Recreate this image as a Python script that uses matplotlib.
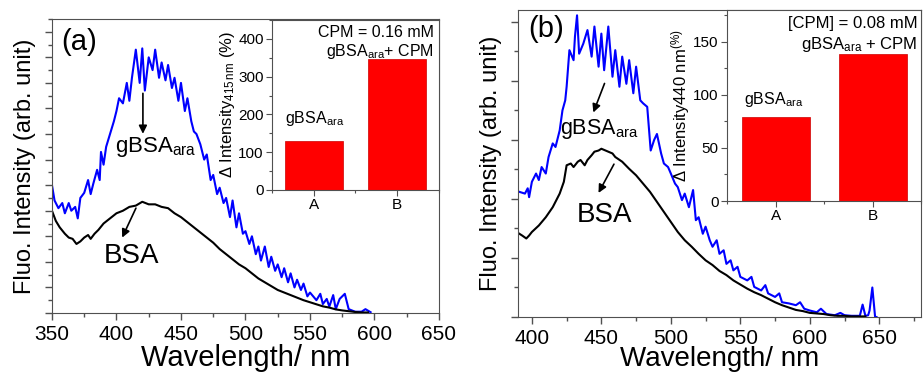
import matplotlib.pyplot as plt
from matplotlib.ticker import MultipleLocator, NullFormatter

plt.rcParams['font.family'] = ['Liberation Sans', 'DejaVu Sans']
plt.rcParams['mathtext.fontset'] = 'custom'
plt.rcParams['mathtext.rm'] = 'Liberation Sans'
plt.rcParams['mathtext.it'] = 'Liberation Sans'

# panel (a) spectra (arb. units, one unit = one major y tick)
wl_a_blue = [350, 352, 355, 358, 360, 363, 365, 368, 370, 372, 375, 378, 380, 382, 385, 387,
             388, 390, 392, 395, 398, 400, 402, 405, 408, 410, 412, 415, 418, 420, 422, 425,
             428, 430, 433, 435, 438, 440, 443, 445, 448, 450, 453, 455, 458, 460, 462, 465,
             468, 470, 473, 475, 478, 480, 483, 485, 488, 490, 493, 495, 498, 500, 503, 505,
             508, 510, 512, 515, 518, 520, 523, 525, 528, 530, 533, 535, 538, 540, 543, 545,
             548, 550, 555, 558, 560, 563, 565, 568, 570, 573, 577, 580, 585, 590, 593, 597]
int_a_blue = [5.0, 4.4, 4.1, 4.3, 3.9, 4.3, 4.0, 4.15, 3.7, 4.5, 4.7, 5.2, 4.65, 5.05, 5.6, 5.2,
              6.3, 5.8, 6.5, 7.0, 7.5, 7.9, 8.4, 8.2, 9.0, 8.3, 9.2, 10.3, 9.0, 10.35, 8.7, 10.0,
              9.5, 10.3, 9.2, 9.8, 9.1, 9.7, 8.8, 9.2, 8.3, 9.0, 7.9, 8.4, 7.5, 7.1, 7.0, 6.6,
              6.0, 6.2, 5.2, 5.4, 4.65, 4.9, 4.3, 4.5, 3.75, 4.4, 3.35, 3.9, 3.1, 3.2, 2.7, 3.0,
              2.3, 2.6, 2.05, 2.6, 1.8, 2.2, 1.65, 1.9, 1.4, 1.75, 1.2, 1.55, 1.0, 1.3, 0.9, 1.15,
              0.65, 0.8, 0.5, 0.75, 0.35, 0.55, 0.25, 0.7, 0.15, 0.55, 0.75, 0.15, 0.05, 0.05, 0.15, 0.03]
wl_a_black = [350, 353, 356, 360, 363, 366, 369, 372, 375, 378, 380, 383, 386, 390, 395, 400,
              405, 410, 415, 420, 425, 430, 435, 440, 445, 450, 455, 460, 465, 470, 475, 480,
              485, 490, 495, 500, 505, 510, 515, 520, 525, 530, 535, 540, 545, 550, 555, 560,
              565, 570, 575, 580, 585, 590, 595]
int_a_black = [4.0, 3.6, 3.35, 3.1, 2.95, 2.9, 2.7, 2.8, 2.95, 3.05, 2.9, 3.1, 3.25, 3.5, 3.7, 3.9,
               4.0, 4.15, 4.2, 4.35, 4.25, 4.25, 4.15, 4.1, 3.9, 3.75, 3.55, 3.35, 3.15, 2.95, 2.75, 2.5,
               2.3, 2.1, 1.9, 1.75, 1.55, 1.35, 1.2, 1.05, 0.9, 0.8, 0.7, 0.6, 0.5, 0.42, 0.34, 0.26,
               0.21, 0.14, 0.1, 0.07, 0.04, 0.02, 0.02]

# panel (b) spectra
wl_b_blue = [391, 395, 397, 398, 400, 403, 405, 407, 410, 412, 415, 417, 420, 422, 424, 425,
             427, 430, 431, 432.5, 434, 437, 440, 443, 445, 448, 450, 452, 455, 458, 460, 463,
             465, 468, 470, 473, 475, 478, 480, 483, 485.5, 488, 490, 493, 495, 498, 500, 503,
             505, 508, 510, 513, 516, 518, 520, 523, 525, 528, 530, 533, 535, 538, 540, 543,
             545, 548, 550, 555, 558, 560, 565, 568, 570, 575, 578, 580, 585, 590, 593, 596,
             600, 605, 608, 612, 618, 622, 625, 630, 636, 638, 640, 642, 643, 645, 647, 648]
int_b_blue = [2.12, 2.09, 2.18, 2.03, 2.29, 2.43, 2.32, 2.54, 2.43, 2.71, 2.94, 2.88, 3.16, 3.5, 3.67, 3.9,
              4.52, 4.35, 4.75, 5.11, 4.46, 4.63, 4.86, 4.41, 4.92, 4.24, 4.8, 4.18, 4.92, 4.07, 4.52, 3.9,
              4.41, 3.95, 4.35, 3.79, 4.24, 3.67, 3.62, 3.56, 2.82, 3.0, 3.1, 2.77, 2.6, 2.54, 2.43, 2.26,
              2.2, 1.98, 2.09, 1.86, 2.15, 1.64, 1.69, 1.41, 1.53, 1.3, 1.19, 1.3, 1.07, 1.13, 0.9, 0.96,
              0.79, 0.85, 0.68, 0.62, 0.68, 0.51, 0.45, 0.54, 0.4, 0.34, 0.4, 0.25, 0.23, 0.2, 0.25, 0.14,
              0.11, 0.08, 0.14, 0.05, 0.03, 0.07, 0.03, 0.02, 0.02, 0.21, 0.02, 0.03, 0.11, 0.5, 0.0, 0.0]
wl_b_black = [391, 393, 396, 398, 400, 405, 410, 415, 420, 423, 425, 428, 430, 433, 435, 438,
              440, 443, 445, 448, 450, 453, 455, 458, 460, 465, 470, 475, 480, 485, 490, 495,
              500, 505, 510, 515, 520, 525, 530, 535, 540, 545, 550, 555, 560, 565, 570, 575,
              580, 585, 590, 595, 600, 605, 610, 615, 620, 625, 630, 640]
int_b_black = [1.41, 1.38, 1.33, 1.38, 1.44, 1.55, 1.69, 1.86, 2.09, 2.29, 2.57, 2.6, 2.54, 2.63, 2.66, 2.57,
               2.66, 2.74, 2.8, 2.82, 2.85, 2.82, 2.8, 2.77, 2.71, 2.63, 2.51, 2.4, 2.26, 2.12, 1.95, 1.78,
               1.61, 1.44, 1.3, 1.19, 1.07, 0.96, 0.88, 0.78, 0.71, 0.62, 0.55, 0.48, 0.42, 0.37, 0.31, 0.25,
               0.2, 0.16, 0.12, 0.1, 0.07, 0.06, 0.05, 0.03, 0.02, 0.02, 0.01, 0.01]

# insets: change in intensity (%)
bar_labels = ['A', 'B']
delta_a = [130, 348]
delta_b = [79, 139]

frame = '#505050'
fig = plt.figure(figsize=(9.23, 3.76), dpi=100)


def style_main(ax, xlim, ylim, xticks, xlabel_size):
    ax.set_xlim(*xlim)
    ax.set_ylim(*ylim)
    ax.set_xticks(xticks)
    ax.xaxis.set_minor_locator(MultipleLocator(25))
    ax.yaxis.set_major_locator(MultipleLocator(1))
    ax.yaxis.set_minor_locator(MultipleLocator(0.5))
    ax.yaxis.set_major_formatter(NullFormatter())
    ax.tick_params(which='major', direction='out', length=5, width=1, color=frame, labelsize=15)
    ax.tick_params(which='minor', direction='out', length=3, width=1, color=frame)
    for s in ax.spines.values():
        s.set_color(frame)
    ax.set_xlabel('Wavelength/ nm', fontsize=xlabel_size)
    ax.set_ylabel('Fluo. Intensity (arb. unit)', fontsize=17, labelpad=3)


def style_inset(ax, vals, ylim, ymajor, yminor, ylabel):
    ax.bar([1, 2], vals, width=0.7, color='#ff0000', edgecolor='#cc0000', linewidth=0.5)
    ax.set_xlim(0.5, 2.5)
    ax.set_ylim(*ylim)
    ax.set_xticks([1, 2])
    ax.set_xticklabels(bar_labels)
    ax.xaxis.set_minor_locator(MultipleLocator(0.5))
    ax.yaxis.set_major_locator(MultipleLocator(ymajor))
    ax.yaxis.set_minor_locator(MultipleLocator(yminor))
    ax.tick_params(which='major', direction='out', length=4, width=0.8, color=frame, labelsize=11, pad=2)
    ax.tick_params(which='minor', direction='out', length=2, width=0.8, color=frame)
    for s in ax.spines.values():
        s.set_color(frame)
    ax.set_ylabel(ylabel, fontsize=12, labelpad=1)


# ---- panel (a)
ax1 = fig.add_axes([0.0563, 0.1676, 0.4193, 0.7819])
ax1.plot(wl_a_blue, int_a_blue, color='#0000ff', lw=1.5)
ax1.plot(wl_a_black, int_a_black, color='black', lw=1.5)
style_main(ax1, (350, 650), (0, 11.5), [350, 400, 450, 500, 550, 600, 650], 21)
ax1.xaxis.labelpad = 0
ax1.text(0.025, 0.97, '(a)', transform=ax1.transAxes, fontsize=21, va='top')
ax1.annotate('', xy=(420.5, 6.9), xytext=(420.5, 8.7),
             arrowprops=dict(arrowstyle='-|>', color='black', lw=1.2, mutation_scale=12))
ax1.text(399, 6.95, 'gBSA$_{ara}$', fontsize=16, va='top')
ax1.annotate('', xy=(403.5, 2.85), xytext=(416, 4.2),
             arrowprops=dict(arrowstyle='-|>', color='black', lw=1.2, mutation_scale=12))
ax1.text(390, 2.75, 'BSA', fontsize=20, va='top')

in1 = fig.add_axes([0.2947, 0.4947, 0.1809, 0.4521])
style_inset(in1, delta_a, (0, 450), 100, 50, r'$\Delta$ Intensity$_{415\,nm}$ (%)')
in1.text(0.97, 0.97, 'CPM = 0.16 mM', transform=in1.transAxes, fontsize=11.5, ha='right', va='top')
in1.text(0.97, 0.87, 'gBSA$_{ara}$+ CPM', transform=in1.transAxes, fontsize=11.5, ha='right', va='top')
in1.text(0.65, 165, 'gBSA$_{ara}$', fontsize=11.5, va='bottom')

# ---- panel (b)
ax2 = fig.add_axes([0.5612, 0.1569, 0.4366, 0.8165])
ax2.plot(wl_b_blue, int_b_blue, color='#0000ff', lw=1.5)
ax2.plot(wl_b_black, int_b_black, color='black', lw=1.5)
style_main(ax2, (390, 680), (0, 5.2), [400, 450, 500, 550, 600, 650], 20)
ax2.xaxis.labelpad = -1
ax2.text(0.025, 0.985, '(b)', transform=ax2.transAxes, fontsize=21, va='top')
ax2.annotate('', xy=(443.5, 3.42), xytext=(453, 4.0),
             arrowprops=dict(arrowstyle='-|>', color='black', lw=1.2, mutation_scale=12))
ax2.text(420, 3.38, 'gBSA$_{ara}$', fontsize=15.5, va='top')
ax2.annotate('', xy=(447, 2.06), xytext=(460, 2.63),
             arrowprops=dict(arrowstyle='-|>', color='black', lw=1.2, mutation_scale=12))
ax2.text(432, 1.95, 'BSA', fontsize=20, va='top')

in2 = fig.add_axes([0.7877, 0.4654, 0.2102, 0.508])
style_inset(in2, delta_b, (0, 180), 50, 25, r'$\Delta$ Intensity440 nm$^{(\%)}$')
in2.text(0.98, 0.97, '[CPM] = 0.08 mM', transform=in2.transAxes, fontsize=12, ha='right', va='top')
in2.text(0.98, 0.87, 'gBSA$_{ara}$ + CPM', transform=in2.transAxes, fontsize=12, ha='right', va='top')
in2.text(0.67, 87, 'gBSA$_{ara}$', fontsize=11.5, va='bottom')

plt.savefig('out.png', dpi=100)
